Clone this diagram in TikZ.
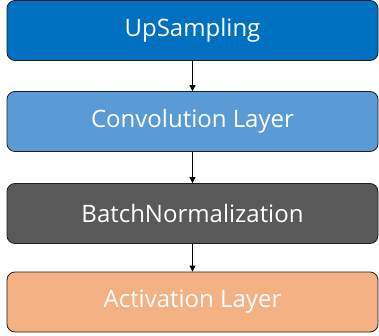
\documentclass[tikz,border=0pt]{standalone}
\usepackage{fontspec}
\setmainfont{Open Sans}
\usetikzlibrary{arrows.meta}
\definecolor{cA}{HTML}{0070C0}
\definecolor{cB}{HTML}{5B9BD5}
\definecolor{cC}{HTML}{595959}
\definecolor{cD}{HTML}{F4B183}
\definecolor{edge}{HTML}{1F1F1F}
\tikzset{
  layerbox/.style={draw=edge, line width=0.8pt, rounded corners=8pt, minimum width=371pt, minimum height=60pt, text=white, font=\fontsize{24}{28}\selectfont, inner sep=0pt},
  flow/.style={draw=black, line width=0.8pt, -{Triangle[length=6pt,width=6pt]}}
}
\begin{document}
\begin{tikzpicture}[x=1pt,y=-1pt]
\useasboundingbox (0,0) rectangle (379,336);
\node[layerbox, fill=cA] (up) at (192.5,30.5) {UpSampling};
\node[layerbox, fill=cB] (conv) at (192.5,121.5) {Convolution Layer};
\node[layerbox, fill=cC] (bn) at (192.5,213.5) {BatchNormalization};
\node[layerbox, fill=cD] (act) at (192.5,302) {Activation Layer};
\draw[flow] (up) -- (conv);
\draw[flow] (conv) -- (bn);
\draw[flow] (bn) -- (act);
\end{tikzpicture}
\end{document}
